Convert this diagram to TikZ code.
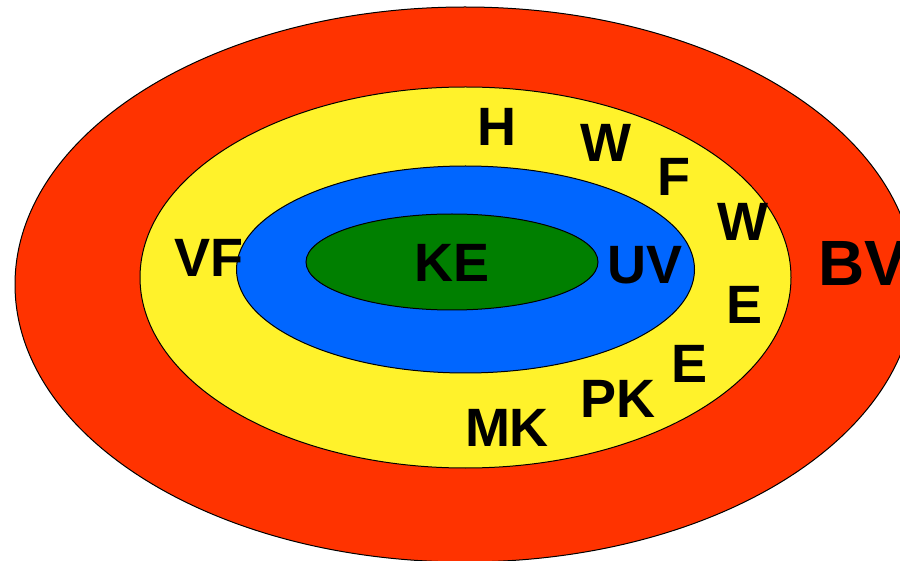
\documentclass[tikz,border=0pt]{standalone}
\usepackage{fontspec}
\setmainfont{Liberation Sans}
\definecolor{bvred}{HTML}{FF3300}
\definecolor{vfyellow}{HTML}{FFF22B}
\definecolor{uvblue}{HTML}{0066FF}
\definecolor{kegreen}{HTML}{007F00}
\begin{document}
\begin{tikzpicture}[x=1pt,y=-1pt,
    ring/.style={draw=black,line width=1pt},
    lbl/.style={inner sep=0pt,font=\bfseries\fontsize{54}{54}\selectfont},
    biglbl/.style={inner sep=0pt,font=\bfseries\fontsize{64}{64}\selectfont}]

    \useasboundingbox (0,0) rectangle (900,561);
    \clip (0,0) rectangle (900,561);

    % rings, outside in
    \draw[ring,fill=bvred]    (465,284.5) ellipse [x radius=450pt, y radius=277.5pt];
    \draw[ring,fill=vfyellow] (465.5,277.5) ellipse [x radius=325.5pt, y radius=190.5pt];
    \draw[ring,fill=uvblue]   (465.5,269.5) ellipse [x radius=229pt, y radius=103.5pt];
    \draw[ring,fill=kegreen]  (452,262) ellipse [x radius=146pt, y radius=48pt];

    \node[lbl] (ke) at (452,263) {KE};
    \node[lbl] (uv) at (645,265) {UV};
    \node[lbl] (vf) at (209,258) {VF};
    \node[biglbl,anchor=west] (bv) at (818,263) {BV};

    \node[lbl] (h)      at (497,127) {H};
    \node[lbl] (wtop)   at (606,143) {W};
    \node[lbl] (f)      at (674,177) {F};
    \node[lbl] (wright) at (743,222) {W};
    \node[lbl] (eright) at (745,305) {E};
    \node[lbl] (elow)   at (690,364) {E};
    \node[lbl] (pk)     at (618,399) {PK};
    \node[lbl] (mk)     at (507,428) {MK};

\end{tikzpicture}
\end{document}
